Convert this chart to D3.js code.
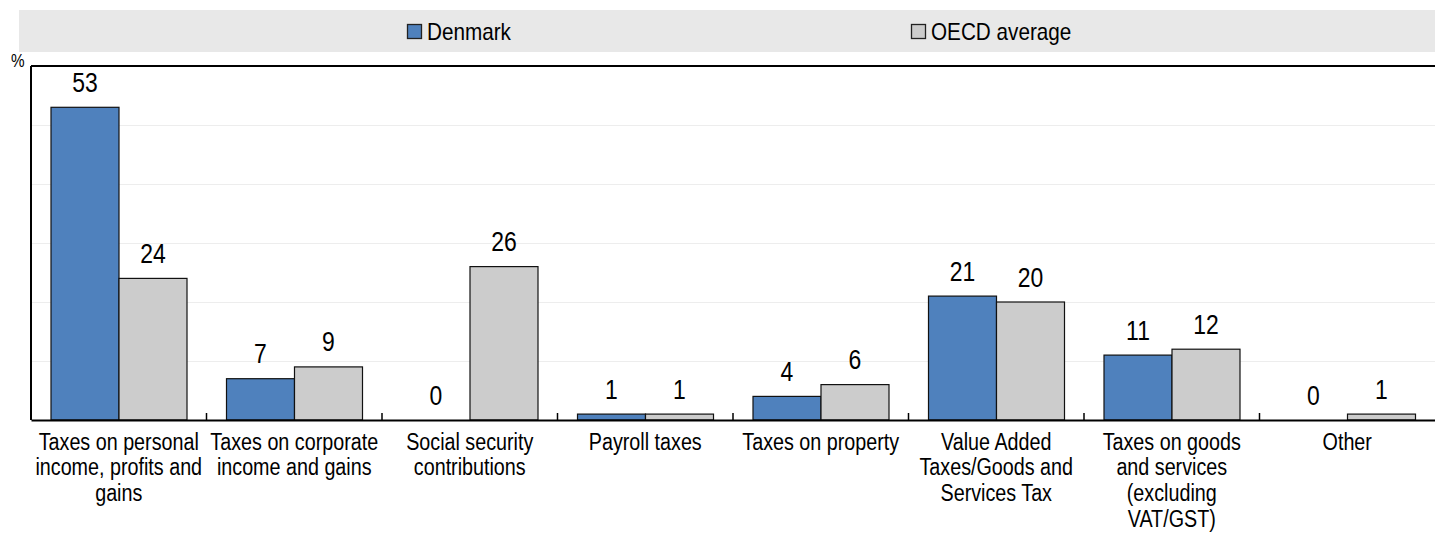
<!DOCTYPE html>
<html><head><meta charset="utf-8">
<script src="https://cdn.jsdelivr.net/npm/d3@7/dist/d3.min.js"></script>
<style>
html,body{margin:0;padding:0;background:#fff;}
svg{display:block;}
text{font-family:"Liberation Sans",Arial,sans-serif;fill:#000;}
</style></head>
<body><svg id="chart" width="1435" height="533"></svg>
<script>
const categories = [
  "Taxes on personal\nincome, profits and\ngains",
  "Taxes on corporate\nincome and gains",
  "Social security\ncontributions",
  "Payroll taxes",
  "Taxes on property",
  "Value Added\nTaxes/Goods and\nServices Tax",
  "Taxes on goods\nand services\n(excluding\nVAT/GST)",
  "Other"
];
const seriesNames = ["Denmark", "OECD average"];
const denmark = [53, 7, 0, 1, 4, 21, 11, 0];
const oecd = [24, 9, 26, 1, 6, 20, 12, 1];
const yTicks = [0, 10, 20, 30, 40, 50, 60];
const colors = ["#4f81bd", "#cccccc"];

const svg = d3.select("#chart");
const W = 1435, H = 533;
const m = {left: 31, right: 0, top: 66, bottom: 113};
const x0 = d3.scaleBand().domain(categories).range([m.left, W - m.right]).paddingInner(0).paddingOuter(0);
const x1 = d3.scaleBand().domain(seriesNames).range([20, x0.bandwidth() - 19.5]).padding(0);
const y = d3.scaleLinear().domain([0, 60]).range([H - m.bottom, m.top]);
const NARROW = 0.85;

// legend band
svg.append("rect").attr("x", 19).attr("y", 10).attr("width", W - 19).attr("height", 42).attr("fill", "#e8e8e8");
const legX = [407, 911];
seriesNames.forEach((s, i) => {
  const g = svg.append("g").attr("transform", `translate(${legX[i]},0)`);
  g.append("rect").attr("x", 0.5).attr("y", 24.5).attr("width", 14).attr("height", 14)
    .attr("fill", colors[i]).attr("stroke", "#222").attr("stroke-width", 1.3);
  g.append("text").attr("transform", "translate(20,40) scale(0.9,1)").attr("font-size", 23).text(s);
});

// gridlines
svg.append("g").selectAll("line").data(yTicks.filter(t => t > 0 && t < 60)).join("line")
  .attr("x1", m.left).attr("x2", W).attr("y1", d => Math.round(y(d)) + 0.5).attr("y2", d => Math.round(y(d)) + 0.5)
  .attr("stroke", "#ededed").attr("stroke-width", 1);

// bars
const data = categories.map((c, i) => ({c, vals: [denmark[i], oecd[i]]}));
const groups = svg.append("g").selectAll("g").data(data).join("g")
  .attr("transform", d => `translate(${x0(d.c)},0)`);
groups.selectAll("rect").data(d => d.vals.map((v, i) => ({v, s: seriesNames[i], i}))).join("rect")
  .filter(d => d.v > 0)
  .attr("x", d => x1(d.s)).attr("width", x1.bandwidth())
  .attr("y", d => y(d.v)).attr("height", d => y(0) - y(d.v))
  .attr("fill", d => colors[d.i]).attr("stroke", "#111").attr("stroke-width", 1.2);
groups.selectAll("text.val").data(d => d.vals.map((v, i) => ({v, s: seriesNames[i], i}))).join("text")
  .attr("class", "val")
  .attr("transform", d => `translate(${x1(d.s) + x1.bandwidth() / 2},${y(d.v) - 15.5}) scale(${NARROW},1)`)
  .attr("text-anchor", "middle").attr("font-size", 27).text(d => d3.format("d")(d.v));

// frame: left axis, top line, bottom axis
svg.append("line").attr("x1", m.left).attr("x2", m.left).attr("y1", m.top).attr("y2", y(0)).attr("stroke", "#000").attr("stroke-width", 2);
svg.append("line").attr("x1", m.left).attr("x2", W).attr("y1", m.top).attr("y2", m.top).attr("stroke", "#000").attr("stroke-width", 2);
const xAxis = d3.axisBottom(x0).tickSize(0).tickFormat("");
const gx = svg.append("g").attr("transform", `translate(0,${y(0)})`).call(xAxis);
gx.select(".domain").attr("stroke", "#000").attr("stroke-width", 2);
// tick marks at band boundaries (pointing up)
gx.append("g").selectAll("line").data(categories.slice(1)).join("line")
  .attr("x1", d => x0(d)).attr("x2", d => x0(d)).attr("y1", 0).attr("y2", -7)
  .attr("stroke", "#000").attr("stroke-width", 1.5);
// category labels
const lab = svg.append("g").selectAll("text").data(categories).join("text")
  .attr("text-anchor", "middle").attr("font-size", 23.5)
  .attr("transform", d => `translate(${x0(d) + x0.bandwidth() / 2},449.5) scale(0.84,1)`);
lab.selectAll("tspan").data(d => d.split("\n")).join("tspan")
  .attr("x", 0).attr("dy", (d, i) => i === 0 ? 0 : 26).text(d => d);

// unit label
svg.append("text").attr("transform", "translate(11,67) scale(0.85,1)").attr("font-size", 18).text("%");
</script></body></html>
